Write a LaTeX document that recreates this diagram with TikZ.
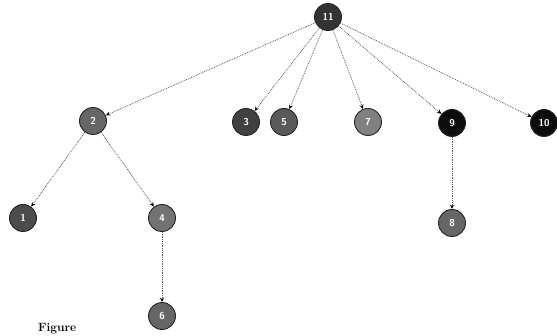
\documentclass[tikz,border=0pt]{standalone}
\usetikzlibrary{arrows.meta}
\begin{document}
\begin{tikzpicture}[x=1pt,y=-1pt,
  vnode/.style={circle,draw=black!85,line width=0.9pt,minimum size=27pt,inner sep=0pt,
    font=\sffamily\bfseries,text=white},
  edge/.style={draw=black!65,line width=0.8pt,densely dotted,-{Stealth[length=4.5pt,width=4pt,black]}}]
\useasboundingbox (0,0) rectangle (557,336);
\node[vnode,fill=black!80] (n11) at (328,17) {11};
\node[vnode,fill=black!60] (n2) at (93,121) {2};
\node[vnode,fill=black!75] (n3) at (246,122) {3};
\node[vnode,fill=black!65] (n5) at (284,122) {5};
\node[vnode,fill=black!50] (n7) at (368,122) {7};
\node[vnode,fill=black!95] (n9) at (452,123) {9};
\node[vnode,fill=black!95] (n10) at (544,123) {10};
\node[vnode,fill=black!70] (n1) at (23,218) {1};
\node[vnode,fill=black!55] (n4) at (162,218) {4};
\node[vnode,fill=black!60] (n8) at (452,223) {8};
\node[vnode,fill=black!60] (n6) at (162,316) {6};
\draw[edge] (n11) -- (n2);
\draw[edge] (n11) -- (n3);
\draw[edge] (n11) -- (n5);
\draw[edge] (n11) -- (n7);
\draw[edge] (n11) -- (n9);
\draw[edge] (n11) -- (n10);
\draw[edge] (n2) -- (n1);
\draw[edge] (n2) -- (n4);
\draw[edge] (n4) -- (n6);
\draw[edge] (n9) -- (n8);
\node[anchor=south west,font=\bfseries\large,inner sep=0pt] (cap) at (38,334) {Figure};
\end{tikzpicture}
\end{document}
